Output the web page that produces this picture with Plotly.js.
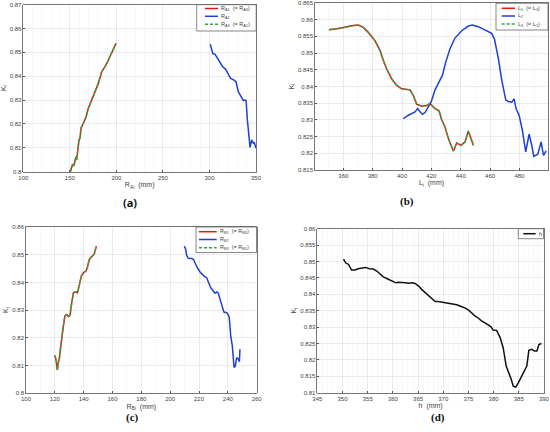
<!DOCTYPE html>
<html>
<head>
<meta charset="utf-8">
<script src="https://cdn.plot.ly/plotly-3.0.1.min.js"></script>
<style>html,body{margin:0;padding:0;background:#fff;}#chart{width:550px;height:432px;}</style>
</head>
<body>
<div id="chart"></div>
<script>
// ---- Panel (a): K_l vs R_Ai ----
const a1x = [150.5,153,154.4,156.6,157.3,158.4,159.8,160.9,162,164.5,167.3,169.8,173.4,177,180.6,184.2,187.8,191.4,195,197.8,199.6];
const a1y = [0.800,0.8031,0.8024,0.8063,0.8049,0.8084,0.8133,0.814,0.8182,0.8203,0.8228,0.8265,0.830,0.8342,0.837,0.8419,0.844,0.8468,0.8499,0.8517,0.8538];
const a2x = [300.9,302.4,303.5,306,308.4,311.3,314.2,317.4,320.3,322.8,326.4,328.5,331,333.9,336.4,338.2,339.3,340.7,343.6,345.4,347.1,348.2,350];
const a2y = [0.8534,0.8517,0.8496,0.8492,0.8479,0.8458,0.844,0.8429,0.8408,0.8391,0.8384,0.8377,0.8335,0.8317,0.8298,0.830,0.8298,0.8217,0.8102,0.8133,0.8119,0.8121,0.8098];
const aNames = ['R<sub>A1</sub>  (= R<sub>A3</sub>)', 'R<sub>A2</sub>', 'R<sub>A3</sub>  (= R<sub>A1</sub>)'];

// ---- Panel (b): K_l vs L_i ----
const b1x = [350.2,358.9,365.7,370.2,373.6,377,381.6,385,387.3,389.5,392.9,396.4,399.8,405.5,407.7,410,413.4,416.8,419,422.5,425.2,427,429.3,431.6,435,437.3,440.2,443,445.2,448.6];
const b1y = [0.857,0.8575,0.8582,0.8584,0.8577,0.8562,0.8537,0.8508,0.8478,0.8453,0.8423,0.8403,0.8393,0.839,0.8373,0.8347,0.8341,0.8343,0.8349,0.8334,0.8327,0.8301,0.8279,0.8244,0.8207,0.8231,0.8224,0.8234,0.8267,0.8224];
const b2x = [400.9,404.3,408.9,410.7,412.3,413.9,415.7,418,419.8,422.5,424.8,427.5,429.8,432.7,436.1,440.7,445.2,447.95,452,456.6,461.1,463,465.7,468,470.7,472.5,474.8,476.4,477.7,479.8,482,484.3,486.6,488.4,489.8,492.5,494.8,496.4,498.2];
const b2y = [0.8304,0.8314,0.8324,0.8334,0.8324,0.8317,0.8322,0.8341,0.8353,0.839,0.8408,0.8433,0.8473,0.8513,0.8545,0.8567,0.8581,0.8584,0.8579,0.8569,0.8559,0.8542,0.8483,0.8418,0.836,0.8355,0.8353,0.8363,0.8334,0.8314,0.8269,0.8204,0.8257,0.8224,0.8191,0.8197,0.8234,0.8194,0.8207];
const bNames = ['L<sub>1</sub>  (= L<sub>3</sub>)', 'L<sub>2</sub>', 'L<sub>3</sub>  (= L<sub>1</sub>)'];

// ---- Panel (c): K_l vs R_Bi ----
const c1x = [120,120.6,121,121.3,121.7,122.4,123.1,124,124.7,125.9,127,128.2,129.4,130.5,131.2,132.1,132.8,134,135.6,136.3,137.5,138.4,139.8,141.6,142.5,143.9,145.5,147.2,147.9,148.8];
const c1y = [0.8137,0.8125,0.8117,0.8099,0.8084,0.8111,0.8123,0.8165,0.8201,0.8243,0.8279,0.8284,0.8277,0.8281,0.8309,0.8351,0.8361,0.8366,0.8363,0.8375,0.8399,0.8423,0.8435,0.8441,0.8453,0.8483,0.8493,0.8501,0.8513,0.8531];
const c2x = [209.8,210.8,211.4,212.6,214.9,216.1,217.2,218.8,220.7,222.3,223.5,225.3,226.5,228.1,229.9,231.1,232.3,233.4,234.6,236.2,237.3,239.2,240.3,241,242,243.1,243.8,244.3,245.2,246.1,247.3,248,248.4];
const c2y = [0.8531,0.8519,0.8498,0.8487,0.8486,0.8483,0.8471,0.8453,0.8438,0.8429,0.8423,0.8417,0.8399,0.8381,0.8369,0.8361,0.8366,0.8361,0.8339,0.8309,0.8293,0.8291,0.8283,0.8273,0.8207,0.8171,0.8123,0.8093,0.8099,0.8129,0.8123,0.8114,0.8159];
const cNames = ['R<sub>B1</sub>  (= R<sub>B3</sub>)', 'R<sub>B2</sub>', 'R<sub>B3</sub>  (= R<sub>B1</sub>)'];

// ---- Panel (d): K_l vs h ----
const dx = [350.2,350.6,351.2,351.8,352.5,353.1,353.9,354.6,355.3,356.1,356.8,357.4,358.1,359.1,359.8,360.6,361.1,361.7,362.5,363.1,363.9,364.4,365.1,365.7,366.4,367,367.7,368.4,369,369.7,370.7,371.7,372.7,373.7,374.4,375.1,375.7,376.3,377,377.6,378.3,379,379.5,379.9,380.6,381.3,381.9,382.5,382.9,383.5,383.9,384.4,384.9,385.6,386.1,386.6,387,387.6,388.1,388.6,389,389.5];
const dy = [0.8507,0.8496,0.8491,0.8474,0.8474,0.8478,0.848,0.8482,0.8478,0.8477,0.8471,0.8464,0.8453,0.8446,0.844,0.8435,0.8437,0.8437,0.8435,0.8434,0.8435,0.8433,0.8425,0.8415,0.8405,0.8395,0.8385,0.8378,0.8378,0.8376,0.8374,0.8371,0.8368,0.8362,0.8358,0.8351,0.8342,0.8334,0.8327,0.8319,0.8313,0.8305,0.8301,0.8291,0.829,0.8268,0.8237,0.8181,0.8166,0.8141,0.812,0.8117,0.813,0.8153,0.8169,0.8181,0.8229,0.8232,0.8227,0.8227,0.8247,0.825];
const dNames = ['h'];

const W = 550, H = 432;
const RED = '#e8141b', BLUE = '#1f3fd6', GREEN = '#2ca83a', BLACK = '#111111';
const LW = 1.5;
const STYLES = [
  {color: RED, width: LW},
  {color: BLUE, width: LW},
  {color: GREEN, width: LW, dash: '3px,2px'}
];

function trio(x1, y1, x2, y2, names, xa, ya) {
  return [
    {x: x1, y: y1, xaxis: xa, yaxis: ya, name: names[0], mode: 'lines', line: STYLES[0], showlegend: false},
    {x: x2, y: y2, xaxis: xa, yaxis: ya, name: names[1], mode: 'lines', line: STYLES[1], showlegend: false},
    {x: x1, y: y1, xaxis: xa, yaxis: ya, name: names[2], mode: 'lines', line: STYLES[2], showlegend: false}
  ];
}

const traces = [].concat(
  trio(a1x, a1y, a2x, a2y, aNames, 'x', 'y'),
  trio(b1x, b1y, b2x, b2y, bNames, 'x2', 'y2'),
  trio(c1x, c1y, c2x, c2y, cNames, 'x3', 'y3'),
  [{x: dx, y: dy, xaxis: 'x4', yaxis: 'y4', name: dNames[0], mode: 'lines', line: {color: BLACK, width: LW}, showlegend: false}]
);

const FONT = 'Liberation Sans, Arial, sans-serif';
function xax(domain, range, dtick, minor, title, anchor) {
  return {domain: domain, range: range, dtick: dtick, tick0: 0, anchor: anchor,
    showline: true, mirror: true, linecolor: '#555', linewidth: 0.8,
    ticks: 'inside', ticklen: 2, tickcolor: '#555',
    showgrid: true, gridcolor: '#e3e3e3', gridwidth: 0.7, zeroline: false,
    minor: {dtick: minor, showgrid: true, gridcolor: '#f2f2f2', gridwidth: 0.5},
    tickfont: {size: 6, color: '#444', family: FONT},
    title: {text: title, font: {size: 7, color: '#444', family: FONT}, standoff: 2}};
}
function yax(domain, range, dtick, anchor) {
  return {domain: domain, range: range, dtick: dtick, tick0: 0, anchor: anchor,
    showline: true, mirror: true, linecolor: '#555', linewidth: 0.8,
    ticks: 'inside', ticklen: 2, tickcolor: '#555',
    showgrid: true, gridcolor: '#e3e3e3', gridwidth: 0.7, zeroline: false,
    tickfont: {size: 6, color: '#444', family: FONT},
    title: {text: 'K<sub>l</sub>', font: {size: 7, color: '#444', family: FONT}, standoff: 2}};
}

// Compact legend boxes (pixel geometry converted to paper coordinates)
const px = v => v / W, py = v => 1 - v / H;
const shapes = [], annotations = [];
function legendBox(box, lineX, textX, rowsY, names, styles) {
  shapes.push({type: 'rect', xref: 'paper', yref: 'paper', x0: px(box[0]), x1: px(box[1]), y0: py(box[2]), y1: py(box[3]),
    line: {color: '#555', width: 0.7}, fillcolor: '#fff', layer: 'above'});
  names.forEach((n, i) => {
    shapes.push({type: 'line', xref: 'paper', yref: 'paper', x0: px(lineX[0]), x1: px(lineX[1]), y0: py(rowsY[i]), y1: py(rowsY[i]),
      line: styles[i], layer: 'above'});
    annotations.push({text: n, xref: 'paper', yref: 'paper', x: px(textX), y: py(rowsY[i]), xanchor: 'left', yanchor: 'middle',
      showarrow: false, font: {size: 5.5, color: '#444', family: FONT}});
  });
}
legendBox([196.7, 256.2, 4.7, 31], [205, 218], 219, [8.5, 16.3, 24.3], aNames, STYLES);
legendBox([496, 548, 3.3, 30], [501.7, 515], 516, [8.3, 16, 24], bNames, STYLES);
legendBox([196, 256.5, 227, 252.5], [199, 216.7], 218.3, [231.7, 239.5, 247.7], cNames, STYLES);
legendBox([518.3, 543.5, 228.7, 238.7], [523.3, 535.7], 536.7, [233.7], dNames, [{color: BLACK, width: LW}]);

const capFont = f => ({size: 11, color: '#111', family: f});
annotations.push(
  {text: '<b>(a)</b>', x: 0.236, y: py(202), xref: 'paper', yref: 'paper', xanchor: 'center', yanchor: 'middle', showarrow: false, font: capFont('Open Sans, Liberation Sans, sans-serif')},
  {text: '<b>(b)</b>', x: px(407), y: py(201), xref: 'paper', yref: 'paper', xanchor: 'center', yanchor: 'middle', showarrow: false, font: capFont('Liberation Serif, Times New Roman, serif')},
  {text: '<b>(c)</b>', x: px(132), y: py(417), xref: 'paper', yref: 'paper', xanchor: 'center', yanchor: 'middle', showarrow: false, font: capFont('Liberation Serif, Times New Roman, serif')},
  {text: '<b>(d)</b>', x: px(438), y: py(417), xref: 'paper', yref: 'paper', xanchor: 'center', yanchor: 'middle', showarrow: false, font: capFont('Liberation Serif, Times New Roman, serif')}
);

const layout = {
  width: W, height: H, margin: {l: 0, r: 0, t: 0, b: 0},
  paper_bgcolor: '#fff', plot_bgcolor: '#fff', showlegend: false,
  font: {family: FONT},
  xaxis:  xax([0.0424, 0.4655], [100, 350], 50, 10, 'R<sub>Ai</sub>  (mm)', 'y'),
  yaxis:  yax([0.6026, 0.9892], [0.8, 0.87], 0.01, 'x'),
  xaxis2: xax([0.5727, 0.9964], [340.7, 499.5], 20, 10, 'L<sub>i</sub>  (mm)', 'y2'),
  yaxis2: yax([0.6065, 0.9931], [0.815, 0.865], 0.005, 'x2'),
  xaxis3: xax([0.0473, 0.4667], [100, 260], 20, 10, 'R<sub>Bi</sub>  (mm)', 'y3'),
  yaxis3: yax([0.0896, 0.4745], [0.8, 0.86], 0.01, 'x3'),
  xaxis4: xax([0.5770, 0.9890], [345, 390], 5, 1, 'h  (mm)', 'y4'),
  yaxis4: yax([0.0910, 0.4706], [0.81, 0.86], 0.005, 'x4'),
  shapes: shapes,
  annotations: annotations
};

Plotly.newPlot('chart', traces, layout, {displayModeBar: false, staticPlot: true});
</script>
</body>
</html>
